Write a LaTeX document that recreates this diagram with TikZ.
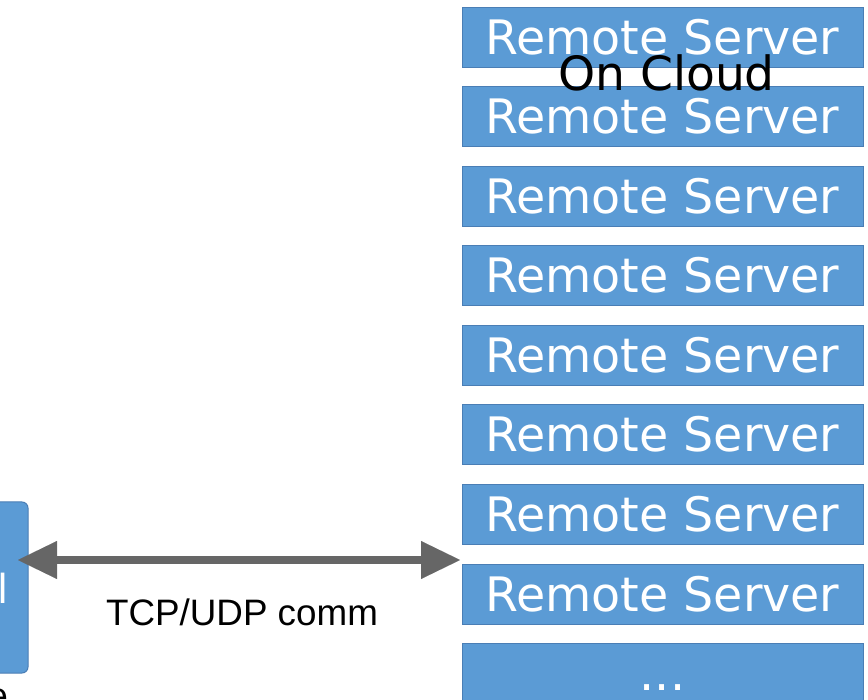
\documentclass[tikz,border=0pt]{standalone}
\usepackage{fontspec}
\setmainfont{DejaVu Sans}
\newfontfamily\arialf{Liberation Sans}
\usetikzlibrary{arrows.meta}
\definecolor{boxblue}{HTML}{5B9BD5}
\definecolor{boxedge}{HTML}{4A7EB5}
\definecolor{arrowgray}{HTML}{666666}
\begin{document}
\begin{tikzpicture}[x=1pt,y=-1pt,
  srv/.style={draw=boxedge, line width=1pt, fill=boxblue, text=white,
    minimum width=401pt, minimum height=60pt, inner sep=0pt,
    text height=34pt, text depth=0pt,
    font=\fontsize{47.5}{52}\selectfont},
  clientbox/.style={draw=boxedge, line width=1pt, fill=boxblue, rounded corners=6pt,
    minimum width=58pt, minimum height=171pt, inner sep=0pt},
  lbl/.style={inner sep=0pt, anchor=base},
  commarrow/.style={draw=arrowgray, line width=8pt,
    {Triangle[length=39pt,width=38pt,line width=0.01pt]}-{Triangle[length=39pt,width=38pt,line width=0.01pt]}}
]
\useasboundingbox (0,0) rectangle (868,700);
% server stack
\node[srv] (s1) at (662.5,37.5) {Remote Server};
\node[srv] (s2) at (662.5,117) {Remote Server};
\node[srv] (s3) at (662.5,196.5) {Remote Server};
\node[srv] (s4) at (662.5,276) {Remote Server};
\node[srv] (s5) at (662.5,355.5) {Remote Server};
\node[srv] (s6) at (662.5,435) {Remote Server};
\node[srv] (s7) at (662.5,514.5) {Remote Server};
\node[srv] (s8) at (662.5,594) {Remote Server};
\node[srv] (s9) at (662.5,673.5) {...};
\node[lbl, font=\fontsize{47.2}{52}\selectfont] (cloud) at (666.5,90.5) {On Cloud};
% client box
\node[clientbox] (client) at (-1,587.5) {};
\node[lbl, anchor=base west, text=white, font=\fontsize{40}{44}\selectfont] (clientl) at (-2.8,603) {l};
\node[lbl, anchor=base west, font=\arialf\fontsize{36.5}{40}\selectfont] (cliente) at (-12.5,708) {e};
% connector
\coordinate (tipL) at (18,560);
\coordinate (tipR) at (460,560);
\draw[commarrow] (tipL) -- (tipR);
\node[lbl, font=\arialf\fontsize{36.8}{40}\selectfont] (comm) at (242,625) {TCP/UDP comm};
\end{tikzpicture}
\end{document}
